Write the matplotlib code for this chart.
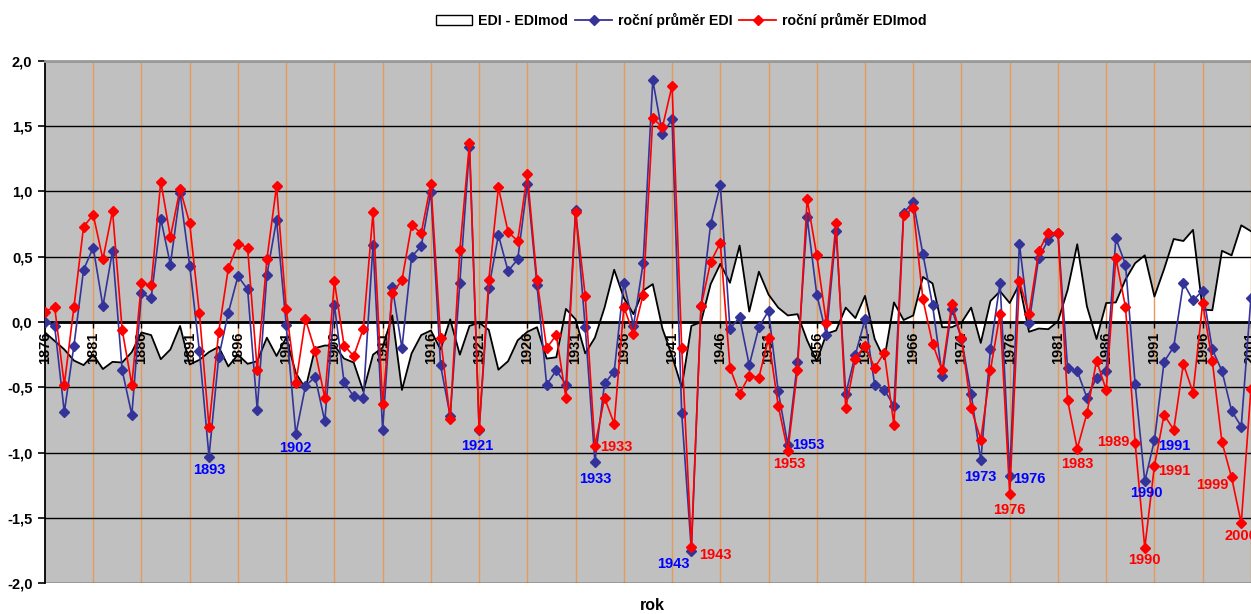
import numpy as np
import matplotlib.pyplot as plt
from matplotlib.lines import Line2D
from matplotlib.patches import Patch
from matplotlib.ticker import FuncFormatter

plt.rcParams["font.family"] = ["Liberation Sans", "DejaVu Sans"]
plt.rcParams["font.weight"] = "bold"

years = list(range(1876, 2002))

# roční průměr EDI
edi = [
    0.00, -0.03, -0.69, -0.18, 0.40, 0.57, 0.12, 0.545, -0.37, -0.71,      # 1876-1885
    0.22, 0.18, 0.79, 0.44, 0.99, 0.43, -0.22, -1.03, -0.27, 0.07,         # 1886-1895
    0.35, 0.25, -0.67, 0.36, 0.78, -0.02, -0.86, -0.49, -0.42, -0.76,      # 1896-1905
    0.13, -0.46, -0.57, -0.58, 0.59, -0.825, 0.27, -0.20, 0.50, 0.58,      # 1906-1915
    0.995, -0.33, -0.72, 0.30, 1.34, -0.825, 0.26, 0.665, 0.39, 0.48,      # 1916-1925
    1.055, 0.28, -0.48, -0.37, -0.48, 0.86, -0.04, -1.07, -0.47, -0.38,    # 1926-1935
    0.30, -0.03, 0.45, 1.85, 1.44, 1.55, -0.70, -1.75, 0.12, 0.75,         # 1936-1945
    1.05, -0.05, 0.035, -0.33, -0.04, 0.085, -0.53, -0.94, -0.305, 0.80,   # 1946-1955
    0.21, -0.10, 0.695, -0.55, -0.25, 0.02, -0.48, -0.52, -0.64, 0.835,    # 1956-1965
    0.92, 0.52, 0.13, -0.41, 0.10, -0.13, -0.55, -1.06, -0.21, 0.30,       # 1966-1975
    -1.175, 0.60, -0.01, 0.49, 0.63, 0.685, -0.355, -0.375, -0.58, -0.425, # 1976-1985
    -0.375, 0.64, 0.44, -0.475, -1.22, -0.905, -0.305, -0.19, 0.30, 0.165, # 1986-1995
    0.24, -0.21, -0.375, -0.68, -0.80, 0.185,                              # 1996-2001
]

# roční průměr EDImod
edimod = [
    0.08, 0.115, -0.48, 0.115, 0.73, 0.82, 0.48, 0.85, -0.06, -0.48,
    0.30, 0.28, 1.075, 0.65, 1.02, 0.755, 0.07, -0.80, -0.08, 0.41,
    0.60, 0.57, -0.37, 0.48, 1.04, 0.10, -0.47, 0.02, -0.22, -0.58,
    0.31, -0.18, -0.26, -0.05, 0.84, -0.63, 0.22, 0.32, 0.74, 0.68,
    1.06, -0.12, -0.74, 0.55, 1.37, -0.82, 0.32, 1.03, 0.69, 0.62,
    1.13, 0.32, -0.20, -0.10, -0.58, 0.84, 0.20, -0.95, -0.58, -0.78,
    0.115, -0.09, 0.21, 1.56, 1.49, 1.81, -0.20, -1.72, 0.12, 0.46,
    0.605, -0.35, -0.55, -0.41, -0.425, -0.125, -0.64, -0.99, -0.365, 0.94,
    0.51, -0.01, 0.76, -0.66, -0.28, -0.18, -0.35, -0.235, -0.79, 0.82,
    0.87, 0.175, -0.165, -0.37, 0.14, -0.125, -0.66, -0.90, -0.37, 0.065,
    -1.32, 0.31, 0.065, 0.54, 0.685, 0.68, -0.60, -0.97, -0.70, -0.295,
    -0.52, 0.49, 0.115, -0.925, -1.73, -1.10, -0.71, -0.825, -0.32, -0.54,
    0.145, -0.30, -0.92, -1.19, -1.54, -0.51,
]

diff = np.array(edi) - np.array(edimod)

# labelled extremes: (year, dx px, dy px, ha)
edi_notes = [
    (1893, 0, 13, "center"), (1902, 0, 14, "center"), (1921, -2, 16, "center"),
    (1933, 0, 17, "center"), (1943, -18, 13, "center"), (1953, 4, 0, "left"),
    (1973, 0, 17, "center"), (1976, 3, 3, "left"), (1990, 2, 12, "center"),
    (1991, 4, 6, "left"),
]
edimod_notes = [
    (1933, 5, 1, "left"), (1943, 8, 8, "left"), (1953, 1, 13, "center"),
    (1976, 0, 16, "center"), (1983, 0, 15, "center"), (1989, -6, -1, "right"),
    (1990, 0, 12, "center"), (1991, 4, 5, "left"), (1999, -3, 8, "right"),
    (2000, 0, 13, "center"),
]

W, H = 1251, 614
fig = plt.figure(figsize=(W / 100, H / 100), dpi=100)
ax = fig.add_axes([45 / W, 1 - 583.3 / H, 1 - 45 / W, (583.3 - 60.7) / H])
ax.set_facecolor("#C0C0C0")
ax.set_xlim(1876, 2001.01)
ax.set_ylim(-2, 2)

# difference area
ax.fill_between(years, diff, 0, facecolor="white", lw=0, zorder=1)
ax.plot(years, diff, color="black", lw=1.3, zorder=1.6)

for yr in years[5::5]:
    ax.axvline(yr, color="#E59A5C", lw=1, zorder=1.4)
for v in np.arange(-2, 2.01, 0.5):
    ax.axhline(v, color="black", lw=1, zorder=1.5)

ax.plot(years, edi, color="#333399", lw=1.2, marker="D", ms=5.5, zorder=3)
ax.plot(years, edimod, color="#FF0000", lw=1.2, marker="D", ms=5.5, zorder=4)

for notes, series, col in [(edi_notes, edi, "#0000FF"), (edimod_notes, edimod, "#FF0000")]:
    for yr, dx, dy, ha in notes:
        val = series[years.index(yr)]
        ax.annotate(str(yr), xy=(yr, val), xytext=(dx * 0.72, -dy * 0.72),
                    textcoords="offset points", ha=ha, va="center",
                    color=col, fontsize=10.5, fontweight="bold", zorder=5)

ax.spines["bottom"].set_position(("data", 0))
ax.spines["bottom"].set_linewidth(2)
ax.spines["top"].set_color("#9A9A9A")
ax.spines["top"].set_linewidth(2)
ax.spines["right"].set_visible(False)
ax.spines["left"].set_linewidth(1.3)

ax.set_xticks(years[::5])
ax.tick_params(axis="x", direction="out", length=4, width=1, pad=3,
               labelsize=10.5, labelrotation=90)
ax.set_yticks(np.arange(-2, 2.01, 0.5))
ax.yaxis.set_major_formatter(FuncFormatter(lambda v, p: f"{v:.1f}".replace(".", ",")))
ax.tick_params(axis="y", direction="out", length=5, width=1.2, pad=4, labelsize=10.5)

handles = [
    Patch(facecolor="white", edgecolor="black", lw=1),
    Line2D([], [], color="#333399", lw=1.3, marker="D", ms=5.5),
    Line2D([], [], color="#FF0000", lw=1.3, marker="D", ms=5.5),
]
fig.legend(handles, ["EDI - EDImod", "roční průměr EDI", "roční průměr EDImod"],
           loc="center", bbox_to_anchor=(681 / W, 1 - 20 / H), ncol=3, frameon=False,
           fontsize=10.2, handlelength=2.6, columnspacing=0.5, handletextpad=0.4)

fig.text(652 / W, 1 - 606 / H, "rok", ha="center", va="center", fontsize=11.5,
         fontweight="bold")

fig.savefig("out.png", dpi=100)
